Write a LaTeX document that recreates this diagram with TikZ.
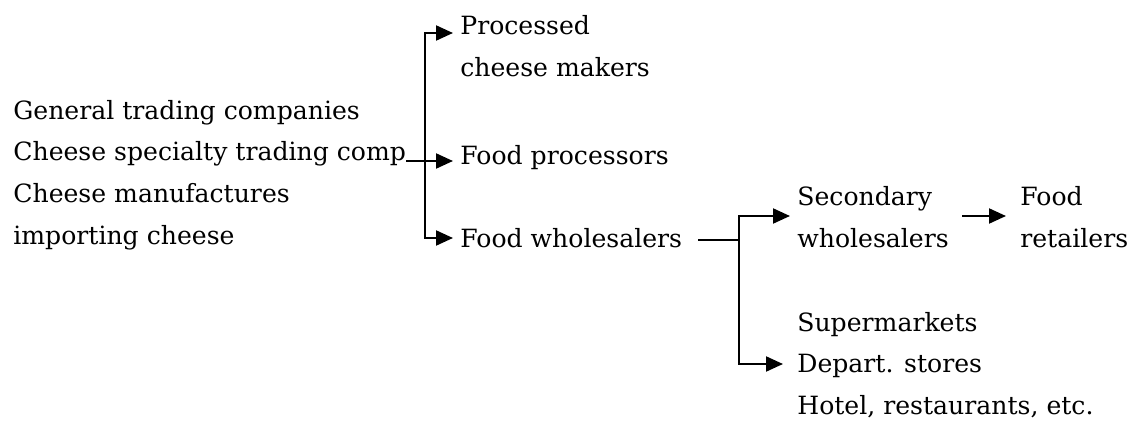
\documentclass[tikz,border=0pt]{standalone}
\usepackage{fontspec}
\setmainfont{DejaVu Serif}
\usepackage{tikz}
\usetikzlibrary{positioning,arrows.meta}

\begin{document}
\begin{tikzpicture}[
		x=0.02cm, y=-0.02cm,
		lbl/.style={
			anchor=west,
			align=left,
			inner sep=0pt,
			font=\fontsize{14.3}{23.8}\selectfont
		},
		arr/.style={
			-{Triangle[length=0.34cm,width=0.3cm]},
			line width=1.2pt,
			shorten >=0.14cm
		},
		wire/.style={
			line width=1.2pt
		}
		]
		
		\useasboundingbox (0,0) rectangle (1137,426);
		
		\node[lbl] at (13, 175)
		(importers) {General trading companies\\Cheese specialty trading comp\\Cheese manufactures\\importing cheese};
		
		\node[lbl] at (460, 46)
		(makers) {Processed\\cheese makers};
		\node[lbl] at (460, 158)
		(procs) {Food processors};
		\node[lbl] at (460, 238)
		(wholes) {Food wholesalers};
		
		\node[lbl] at (797, 217)
		(second) {Secondary\\wholesalers};
		\node[lbl] at (1020, 217)
		(retail) {Food\\retailers};
		\node[lbl] at (797, 365)
		(stores) {Supermarkets\\Depart. stores\\Hotel, restaurants, etc.};
		
		\coordinate (trunktop) at (425, 33);
		\coordinate (trunkmid) at (425, 161);
		\coordinate (trunkbot) at (425, 238);
		\coordinate (wsout) at (698, 240);
		\coordinate (forktop) at (739, 216);
		\coordinate (forkmid) at (739, 240);
		\coordinate (forkbot) at (739, 364);
		\coordinate (secout) at (962, 216);
		
		\draw[arr] (trunkmid) |- (makers.west |- trunktop);
		\draw[arr] (trunkmid) |- (wholes.west |- trunkbot);
		\draw[arr] (importers.east |- trunkmid) -- (procs.west |- trunkmid);
		\draw[wire] (wsout) -- (forkmid);
		\draw[arr] (forkmid) |- (second.west |- forktop);
		\draw[arr, shorten >=0.28cm] (forkmid) |- (stores.west |- forkbot);
		\draw[arr, shorten >=0.28cm] (secout) -- (retail.west |- forktop);
		
	\end{tikzpicture}
\end{document}
